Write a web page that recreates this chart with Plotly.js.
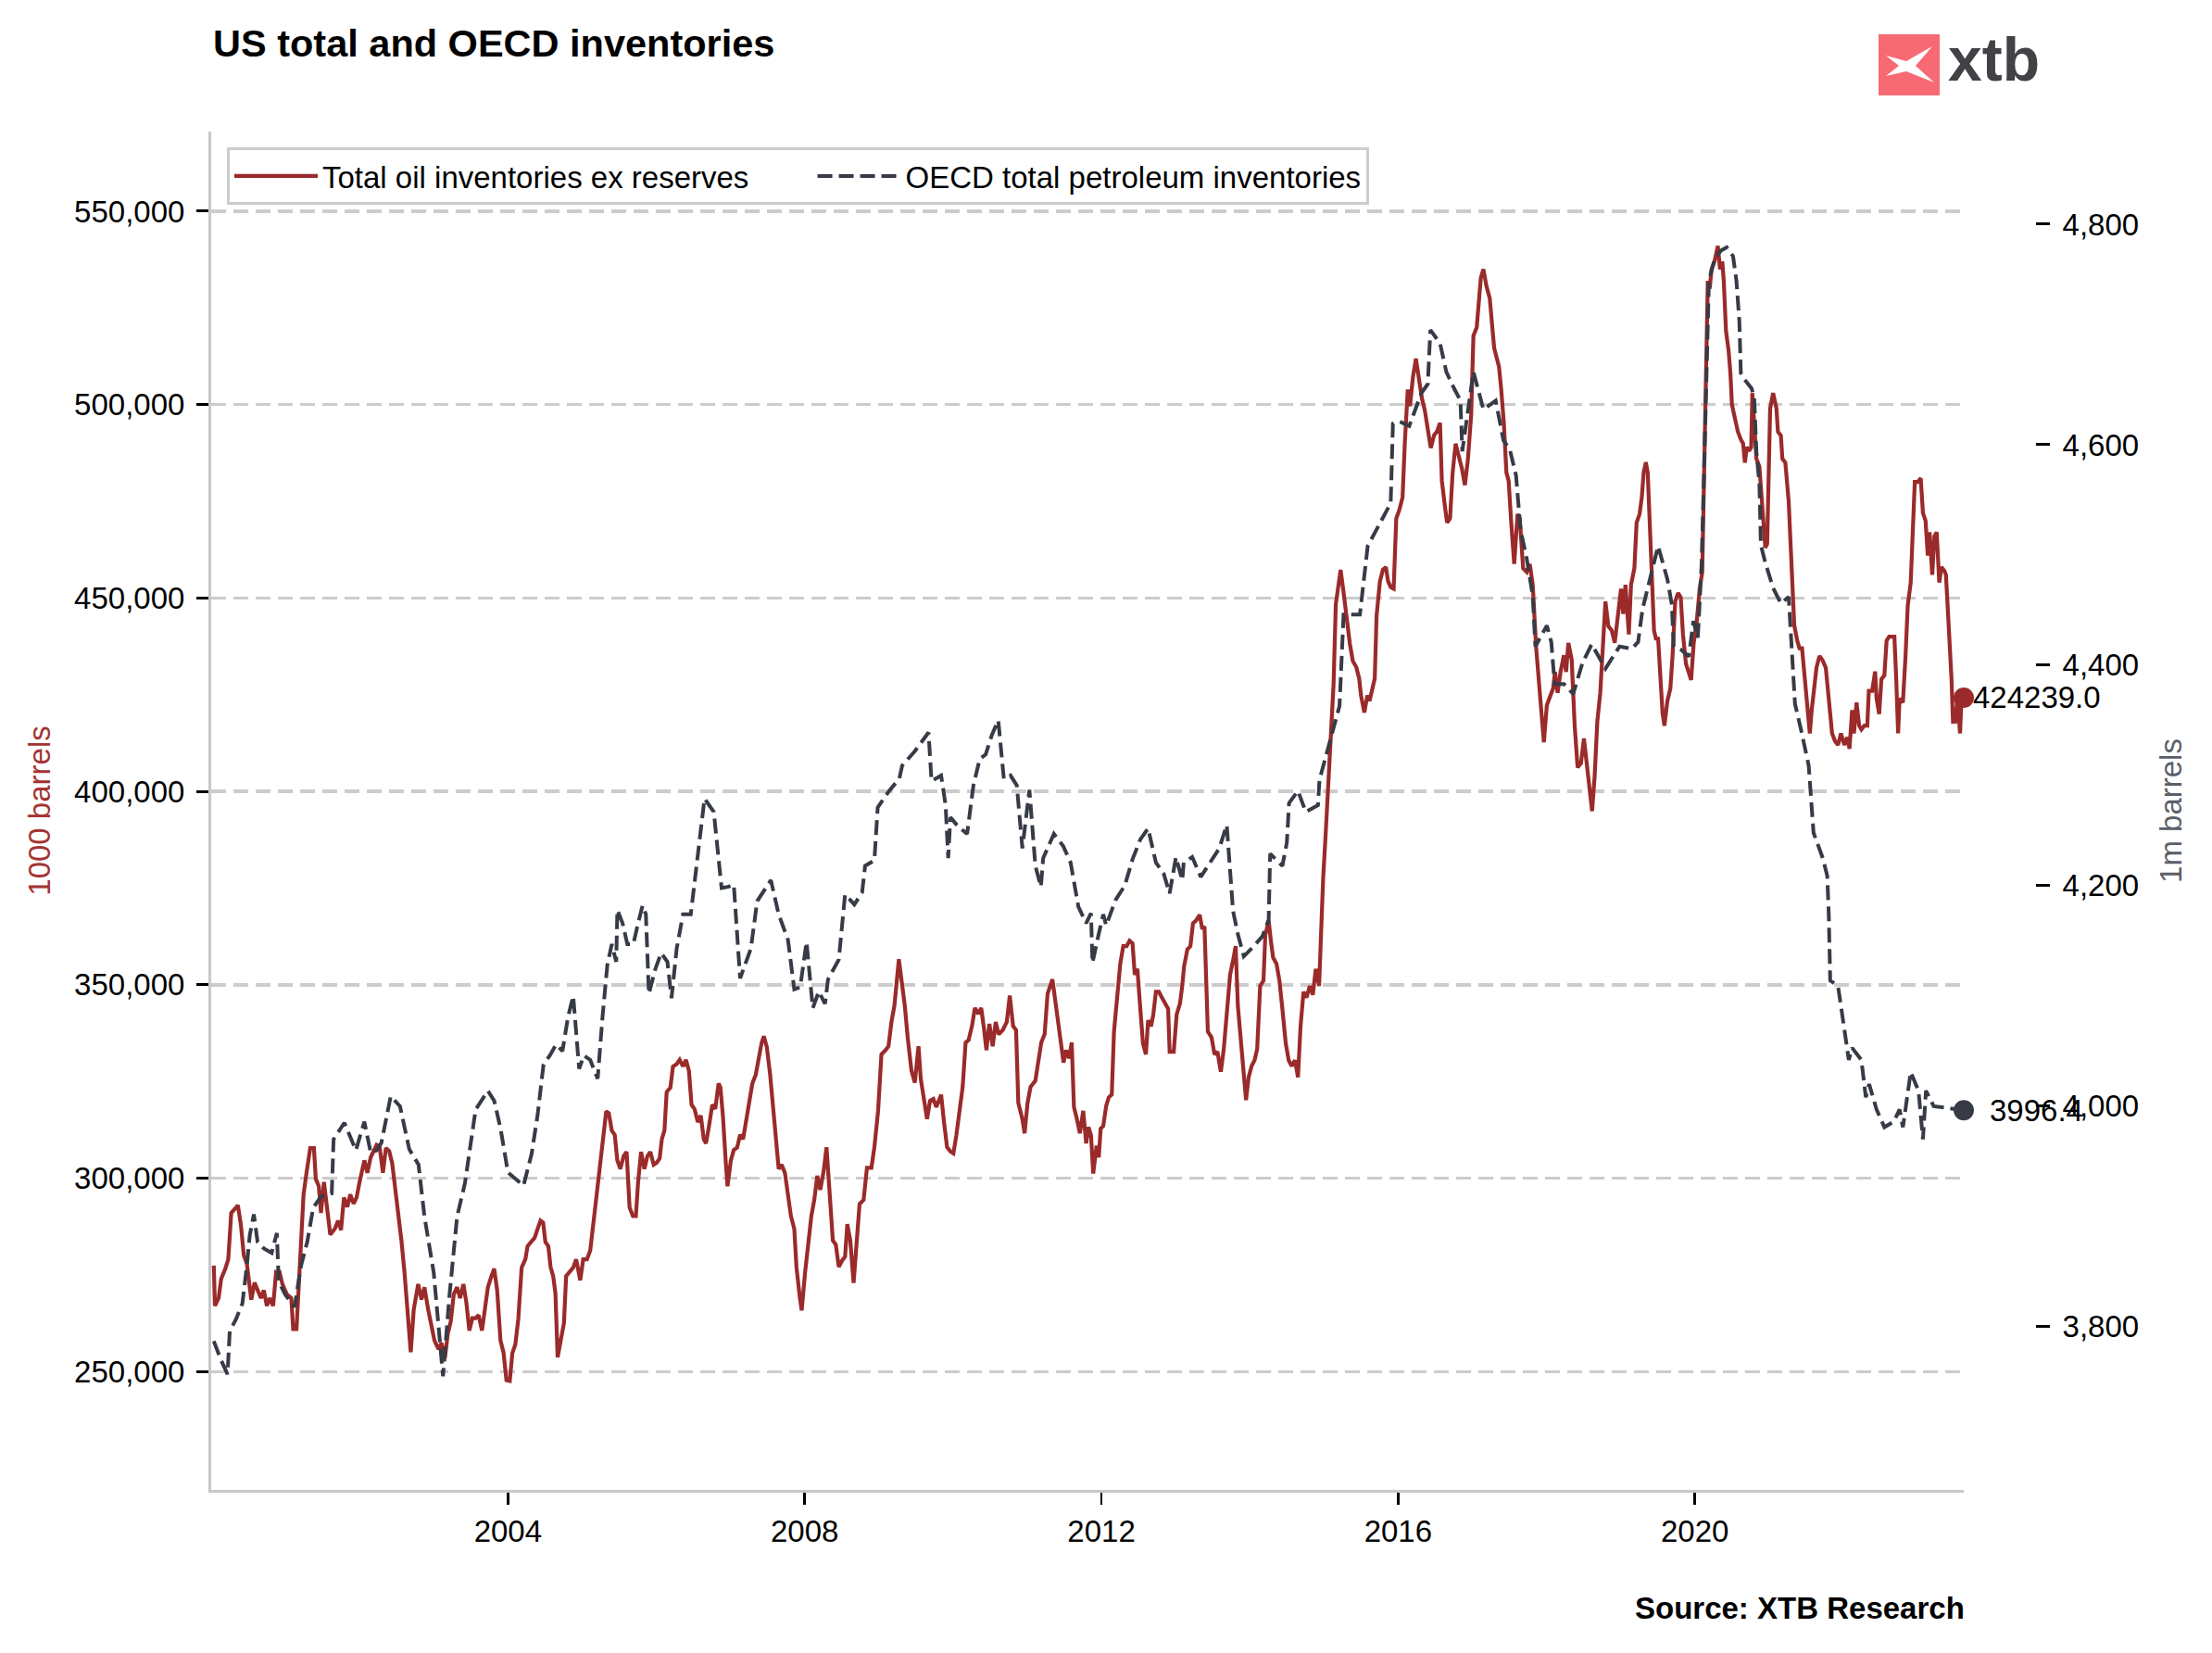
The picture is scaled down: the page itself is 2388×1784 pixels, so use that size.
<!DOCTYPE html>
<html>
<head>
<meta charset="utf-8">
<script src="https://cdn.plot.ly/plotly-3.0.1.min.js"></script>
<style>
  html, body { margin: 0; padding: 0; background: #ffffff; }
  #chart { width: 2388px; height: 1784px; }
</style>
</head>
<body>
<div id="chart"></div>
<script>
// ---- data (decimal year, value) ----
const chartTitle = 'US total and OECD inventories';
const sourceText = 'Source: XTB Research';
const redName = 'Total oil inventories ex reserves';
const oecdName = 'OECD total petroleum inventories';
const leftAxisTitle = '1000 barrels';
const rightAxisTitle = '1m barrels';

const xTickVals = [2004, 2008, 2012, 2016, 2020];
const xTickText = ['2004', '2008', '2012', '2016', '2020'];
const leftTickVals = [250000, 300000, 350000, 400000, 450000, 500000, 550000];
const rightTickVals = [3800, 4000, 4200, 4400, 4600, 4800];

// US total oil inventories ex reserves, thousand barrels
const redSeries = [
[2000.035,277400],[2000.05,267000],[2000.10,269000],[2000.135,274000],[2000.19,276600],[2000.23,279000],[2000.27,291000],[2000.31,292000],[2000.36,293000],[2000.40,288000],[2000.44,280000],[2000.48,278000],[2000.52,271000],[2000.54,268600],[2000.585,273000],[2000.63,271000],[2000.67,269000],[2000.71,271000],[2000.75,267000],[2000.79,269000],[2000.835,267000],[2000.875,275800],[2000.92,275800],[2000.96,272600],[2001.02,270000],[2001.08,269000],[2001.105,261000],[2001.15,261000],[2001.19,274000],[2001.21,284600],[2001.245,295800],[2001.285,301400],[2001.335,307800],[2001.385,307800],[2001.41,299800],[2001.45,298000],[2001.48,291000],[2001.52,299000],[2001.565,291800],[2001.605,285400],[2001.67,287000],[2001.71,289000],[2001.75,286600],[2001.79,295000],[2001.835,292600],[2001.875,295800],[2001.92,293400],[2001.96,295000],[2002.00,299000],[2002.065,304600],[2002.105,301400],[2002.15,305400],[2002.19,307000],[2002.23,308600],[2002.27,308200],[2002.315,301400],[2002.355,307800],[2002.40,307000],[2002.44,303800],[2002.48,298000],[2002.52,291800],[2002.565,283800],[2002.605,275800],[2002.65,266000],[2002.69,255000],[2002.73,266000],[2002.79,272600],[2002.835,268600],[2002.875,271800],[2002.925,266000],[2002.97,261400],[2003.01,258000],[2003.065,255800],[2003.105,257400],[2003.15,253400],[2003.19,259800],[2003.23,263000],[2003.27,270000],[2003.315,271800],[2003.355,269000],[2003.40,272600],[2003.44,267800],[2003.48,260600],[2003.52,263800],[2003.565,263800],[2003.605,264600],[2003.65,260600],[2003.69,265400],[2003.73,271800],[2003.77,274200],[2003.815,276600],[2003.855,271000],[2003.90,258000],[2003.94,255000],[2003.98,247800],
[2004.025,247600],[2004.06,254800],[2004.10,257000],[2004.14,263600],[2004.185,276900],[2004.235,279000],[2004.265,282400],[2004.315,283500],[2004.36,284600],[2004.40,286900],[2004.44,289000],[2004.475,288500],[2004.505,283500],[2004.545,282400],[2004.575,277000],[2004.61,274700],[2004.64,270300],[2004.67,253700],[2004.71,258000],[2004.755,262500],[2004.785,274700],[2004.825,275800],[2004.88,276900],[2004.92,279000],[2004.975,273600],[2005.015,279000],[2005.065,279000],[2005.11,281300],[2005.15,288000],[2005.19,296800],[2005.235,303500],[2005.275,309000],[2005.325,317300],[2005.36,316800],[2005.40,312300],[2005.44,311200],[2005.475,304600],[2005.515,302400],[2005.56,305700],[2005.60,306800],[2005.64,292400],[2005.685,290200],[2005.725,290200],[2005.755,299000],[2005.795,306800],[2005.84,302400],[2005.88,305700],[2005.92,306800],[2005.965,303500],[2006.005,304000],[2006.045,305100],[2006.075,310100],[2006.11,312300],[2006.14,322300],[2006.19,323400],[2006.225,328900],[2006.275,329500],[2006.315,330600],[2006.36,328900],[2006.40,330600],[2006.44,327800],[2006.475,319000],[2006.515,317900],[2006.56,314500],[2006.60,316200],[2006.64,310100],[2006.67,309000],[2006.71,313400],[2006.755,319000],[2006.795,317900],[2006.84,324500],[2006.865,323400],[2006.90,315600],[2006.935,304600],[2006.96,297900],[2007.005,304600],[2007.045,307300],[2007.09,307900],[2007.13,311200],[2007.17,310100],[2007.21,314500],[2007.255,319000],[2007.295,324500],[2007.34,326700],[2007.38,331100],[2007.42,335000],[2007.45,336700],[2007.49,333900],[2007.535,326700],[2007.575,319000],[2007.61,311200],[2007.65,302400],[2007.69,303500],[2007.735,301300],[2007.775,295700],[2007.815,290200],[2007.86,286900],[2007.89,276900],[2007.935,269200],[2007.96,265800],
[2008.005,275500],[2008.045,282800],[2008.09,290200],[2008.13,294400],[2008.17,300600],[2008.21,297000],[2008.255,301700],[2008.295,308000],[2008.34,296400],[2008.38,283900],[2008.42,282800],[2008.46,277100],[2008.505,278700],[2008.545,279700],[2008.575,288100],[2008.615,283900],[2008.66,272900],[2008.70,283900],[2008.74,293300],[2008.795,294400],[2008.84,302700],[2008.90,302700],[2008.94,308000],[2008.99,317400],[2009.035,332000],[2009.09,333100],[2009.13,334100],[2009.17,340400],[2009.21,344600],[2009.27,356600],[2009.32,349800],[2009.35,344600],[2009.39,336200],[2009.44,327800],[2009.485,324700],[2009.535,334100],[2009.565,325700],[2009.61,319500],[2009.65,315300],[2009.69,320000],[2009.735,320500],[2009.775,318400],[2009.84,321600],[2009.88,314200],[2009.92,308000],[2009.965,306900],[2010.005,306400],[2010.045,311100],[2010.09,318400],[2010.13,323600],[2010.17,335100],[2010.21,335700],[2010.255,339300],[2010.295,344000],[2010.34,342500],[2010.38,344000],[2010.42,338300],[2010.45,333100],[2010.49,339900],[2010.535,334100],[2010.575,340400],[2010.615,337200],[2010.67,338300],[2010.725,340400],[2010.765,347200],[2010.81,339300],[2010.85,338300],[2010.88,319500],[2010.935,315300],[2010.965,311600],[2011.005,319500],[2011.045,323600],[2011.11,325200],[2011.15,329900],[2011.19,335100],[2011.235,337200],[2011.275,347700],[2011.34,351400],[2011.38,345600],[2011.42,340400],[2011.465,335100],[2011.49,329900],[2011.525,333100],[2011.565,331000],[2011.60,335100],[2011.63,318400],[2011.67,315300],[2011.71,311600],[2011.755,317400],[2011.795,309000],[2011.825,313200],[2011.86,311100],[2011.89,301200],
[2011.935,308400],[2011.965,305400],[2011.99,312800],[2012.025,313500],[2012.065,318700],[2012.10,320900],[2012.14,321600],[2012.17,337900],[2012.21,346700],[2012.255,355500],[2012.295,360000],[2012.34,360000],[2012.38,361400],[2012.42,360700],[2012.45,352600],[2012.485,354100],[2012.525,343800],[2012.56,334900],[2012.60,332000],[2012.63,340800],[2012.67,339300],[2012.70,342300],[2012.735,348200],[2012.775,348200],[2012.815,346700],[2012.86,345200],[2012.90,343800],[2012.92,332700],[2012.975,332700],[2013.015,342300],[2013.06,345200],[2013.09,349700],[2013.115,354800],[2013.16,359200],[2013.20,360000],[2013.235,365900],[2013.275,366600],[2013.325,368100],[2013.36,364400],[2013.39,365100],[2013.435,337900],[2013.485,336400],[2013.525,332000],[2013.565,332700],[2013.61,327500],[2013.65,333400],[2013.69,342300],[2013.735,352600],[2013.775,356300],[2013.81,360000],[2013.84,344500],[2013.88,336400],[2013.92,327500],[2013.95,320200],[2013.985,326100],[2014.025,329000],[2014.065,330500],[2014.10,333400],[2014.14,349700],[2014.185,351100],[2014.21,362900],[2014.255,366600],[2014.285,361400],[2014.315,357000],[2014.36,355500],[2014.40,351100],[2014.44,343800],[2014.485,334900],[2014.525,330500],[2014.565,329000],[2014.61,330500],[2014.65,326100],[2014.685,339300],[2014.725,348200],[2014.765,346700],[2014.81,349700],[2014.85,347400],[2014.89,354100],[2014.935,349700],[2014.96,362900],[2014.99,377700],[2015.025,389500],[2015.06,402700],[2015.09,413000],[2015.13,427800],[2015.16,448400],[2015.19,452800],[2015.225,457300],[2015.265,451400],[2015.31,444000],[2015.35,438100],[2015.39,433700],[2015.435,432200],[2015.475,429200],[2015.50,424800],[2015.545,420400],[2015.585,424800],[2015.615,423400],[2015.65,426300],[2015.685,429200],[2015.71,445500],[2015.755,454300],[2015.795,457300],[2015.835,458000],[2015.865,454300],[2015.90,452800],[2015.94,452400],
[2015.975,470600],[2016.015,472700],[2016.06,476000],[2016.09,489900],[2016.13,503900],[2016.16,499600],[2016.20,507100],[2016.24,511900],[2016.285,506000],[2016.32,501700],[2016.36,498500],[2016.40,494200],[2016.44,488800],[2016.485,492100],[2016.525,493100],[2016.565,495300],[2016.59,480300],[2016.63,473800],[2016.66,469500],[2016.70,470600],[2016.735,482400],[2016.775,489900],[2016.815,486700],[2016.86,483500],[2016.90,479200],[2016.94,485600],[2016.985,497400],[2017.015,517800],[2017.06,520000],[2017.09,527500],[2017.115,532800],[2017.15,535000],[2017.19,530700],[2017.235,527500],[2017.265,521000],[2017.295,514600],[2017.325,512400],[2017.36,509800],[2017.39,503900],[2017.425,495300],[2017.46,482400],[2017.49,480300],[2017.525,469500],[2017.565,458800],[2017.61,471700],[2017.64,470600],[2017.685,457700],[2017.735,456700],[2017.775,458800],[2017.815,453400],[2017.86,437300],[2017.89,430900],[2017.94,418000],[2017.965,412700],[2018.005,422300],[2018.045,424500],[2018.09,426600],[2018.115,430900],[2018.15,425500],[2018.19,430900],[2018.235,435200],[2018.265,430900],[2018.295,438400],[2018.34,434100],[2018.38,417000],[2018.42,406200],[2018.465,407300],[2018.505,413700],[2018.545,407300],[2018.59,400900],[2018.615,394900],[2018.65,404100],[2018.685,418000],[2018.725,425500],[2018.765,439500],[2018.795,449100],[2018.835,442700],[2018.88,441600],[2018.92,438400],[2018.96,444800],[2019.005,452400],[2019.035,445900],[2019.065,453400],[2019.11,440600],[2019.14,453400],[2019.185,457700],[2019.215,469500],[2019.255,471700],[2019.285,476000],[2019.31,482400],[2019.34,485100],[2019.365,482400],[2019.39,469500],[2019.42,456700],[2019.45,441600],[2019.475,439500],[2019.505,439500],[2019.535,429800],[2019.565,420200],[2019.59,417000],[2019.63,423400],[2019.67,426600],[2019.70,435200],[2019.735,449100],[2019.775,451300],[2019.81,450200],[2019.84,440600],[2019.88,433000],[2019.92,430900],[2019.95,428800],[2019.985,438400],
[2020.025,443800],[2020.065,452400],[2020.10,456700],[2020.12,477000],[2020.14,501700],[2020.175,532000],[2020.20,530000],[2020.225,535000],[2020.265,537000],[2020.31,541000],[2020.34,535000],[2020.37,537000],[2020.39,532000],[2020.42,519000],[2020.455,514000],[2020.48,508000],[2020.50,500000],[2020.535,497000],[2020.58,493000],[2020.62,491000],[2020.65,490000],[2020.675,485000],[2020.70,489000],[2020.73,488000],[2020.76,489000],[2020.775,503000],[2020.80,496000],[2020.83,486000],[2020.87,484000],[2020.90,475000],[2020.925,470000],[2020.95,463000],[2020.975,464000],[2020.995,486000],[2021.015,499000],[2021.055,503000],[2021.10,499000],[2021.12,493000],[2021.16,492000],[2021.18,486000],[2021.22,485000],[2021.265,475000],[2021.30,461000],[2021.34,443000],[2021.38,439000],[2021.41,437000],[2021.445,437000],[2021.475,431000],[2021.515,421000],[2021.55,415000],[2021.575,421000],[2021.605,426000],[2021.64,432000],[2021.68,435000],[2021.72,434000],[2021.765,432000],[2021.805,424000],[2021.85,415000],[2021.89,413000],[2021.93,412000],[2021.97,415000],[2022.015,412000],[2022.055,414000],[2022.085,411000],[2022.12,421000],[2022.145,415000],[2022.18,423000],[2022.215,417000],[2022.245,416000],[2022.285,417000],[2022.325,417000],[2022.345,426000],[2022.39,426000],[2022.43,431000],[2022.45,424000],[2022.485,420000],[2022.515,429000],[2022.555,430000],[2022.585,439000],[2022.62,440000],[2022.66,440000],[2022.69,440000],[2022.715,429000],[2022.74,415000],[2022.76,424000],[2022.805,423000],[2022.84,435000],[2022.87,448000],[2022.91,454000],[2022.94,467000],[2022.965,480000],[2023.005,480000],[2023.045,481000],[2023.075,472000],[2023.11,470000],[2023.14,461000],[2023.165,467000],[2023.20,456000],[2023.23,466000],[2023.26,467000],[2023.295,454000],[2023.325,458000],[2023.365,457000],[2023.385,456000],[2023.41,445000],[2023.43,440000],[2023.46,429000],[2023.48,418000],[2023.51,418000],[2023.54,424000],[2023.575,415000],[2023.595,424000],[2023.625,424239]
];

// OECD total petroleum inventories, million barrels
const oecdSeries = [
[2000.035,3787],[2000.125,3771],[2000.22,3757],[2000.25,3796],[2000.335,3807],[2000.42,3821],[2000.48,3855],[2000.52,3883],[2000.575,3902],[2000.625,3877],[2000.71,3871],[2000.815,3867],[2000.885,3885],[2000.91,3841],[2001.0,3829],[2001.125,3818],[2001.21,3855],[2001.295,3877],[2001.375,3908],[2001.48,3918],[2001.625,3921],[2001.65,3970],[2001.795,3985],[2001.95,3960],[2002.065,3986],[2002.15,3958],[2002.23,3960],[2002.295,3967],[2002.42,4009],[2002.545,4000],[2002.67,3961],[2002.795,3947],[2002.875,3900],[2003.0,3849],[2003.125,3755],[2003.21,3827],[2003.315,3900],[2003.42,3930],[2003.565,3997],[2003.73,4014],[2003.815,4005],[2003.9,3980],
[2004.0,3940],[2004.21,3928],[2004.32,3957],[2004.40,3992],[2004.48,4038],[2004.565,4046],[2004.65,4056],[2004.735,4050],[2004.81,4081],[2004.88,4100],[2004.96,4034],[2005.025,4046],[2005.11,4042],[2005.21,4025],[2005.275,4081],[2005.34,4128],[2005.40,4147],[2005.46,4131],[2005.475,4178],[2005.545,4166],[2005.61,4147],[2005.69,4147],[2005.755,4166],[2005.815,4182],[2005.86,4174],[2005.90,4102],[2005.985,4124],[2006.065,4139],[2006.15,4131],[2006.205,4098],[2006.275,4143],[2006.36,4174],[2006.465,4174],[2006.565,4229],[2006.65,4279],[2006.775,4267],[2006.88,4198],[2006.965,4199],[2007.045,4201],[2007.13,4116],[2007.275,4143],[2007.36,4186],[2007.44,4194],[2007.545,4205],[2007.65,4174],[2007.775,4151],[2007.86,4106],[2007.94,4108],
[2008.025,4149],[2008.11,4089],[2008.19,4104],[2008.275,4093],[2008.315,4115],[2008.46,4133],[2008.545,4192],[2008.67,4183],[2008.775,4194],[2008.815,4218],[2008.94,4223],[2008.985,4271],[2009.15,4287],[2009.275,4297],[2009.315,4309],[2009.485,4322],[2009.67,4339],[2009.71,4295],[2009.84,4300],[2009.90,4273],[2009.935,4225],[2009.965,4262],[2010.065,4254],[2010.19,4247],[2010.275,4291],[2010.36,4315],[2010.44,4319],[2010.525,4337],[2010.61,4350],[2010.685,4297],[2010.775,4300],[2010.86,4291],[2010.935,4234],[2010.985,4262],[2011.03,4287],[2011.11,4218],[2011.185,4199],[2011.215,4225],[2011.36,4247],[2011.485,4236],[2011.585,4221],[2011.69,4181],[2011.795,4166],[2011.86,4175],[2011.88,4130],[2011.96,4155],
[2012.025,4174],[2012.065,4164],[2012.19,4187],[2012.315,4200],[2012.42,4224],[2012.525,4242],[2012.63,4252],[2012.735,4221],[2012.84,4211],[2012.92,4193],[2013.005,4226],[2013.09,4205],[2013.11,4221],[2013.225,4226],[2013.34,4208],[2013.465,4221],[2013.59,4234],[2013.69,4255],[2013.775,4177],[2013.84,4156],[2013.92,4136],[2014.025,4143],[2014.17,4154],[2014.255,4169],[2014.275,4229],[2014.44,4218],[2014.5,4239],[2014.53,4275],[2014.65,4286],[2014.755,4267],[2014.92,4273],[2014.94,4296],[2015.065,4327],[2015.21,4363],[2015.265,4446],[2015.485,4446],[2015.59,4508],[2015.71,4523],[2015.90,4547],[2015.93,4619],
[2016.02,4621],[2016.15,4617],[2016.315,4647],[2016.40,4655],[2016.435,4704],[2016.565,4692],[2016.65,4666],[2016.755,4651],[2016.84,4640],[2016.865,4594],[2016.94,4632],[2017.015,4666],[2017.15,4632],[2017.315,4640],[2017.42,4604],[2017.505,4596],[2017.59,4572],[2017.65,4523],[2017.735,4496],[2017.815,4463],[2017.85,4417],[2018.005,4436],[2018.065,4421],[2018.11,4383],[2018.235,4383],[2018.36,4374],[2018.485,4402],[2018.61,4419],[2018.795,4397],[2018.985,4417],[2019.15,4415],[2019.235,4421],[2019.295,4451],[2019.40,4478],[2019.505,4508],[2019.63,4478],[2019.69,4455],[2019.715,4417],[2019.815,4414],[2019.92,4408],[2019.98,4440],
[2020.04,4425],[2020.09,4490],[2020.12,4565],[2020.16,4671],[2020.19,4749],[2020.265,4768],[2020.35,4776],[2020.43,4779],[2020.515,4771],[2020.56,4749],[2020.60,4712],[2020.62,4665],[2020.66,4660],[2020.765,4651],[2020.80,4643],[2020.83,4593],[2020.87,4565],[2020.89,4509],[2020.95,4493],[2021.055,4470],[2021.16,4456],[2021.265,4462],[2021.305,4420],[2021.35,4365],[2021.43,4342],[2021.535,4309],[2021.60,4248],[2021.725,4225],[2021.785,4209],[2021.805,4175],[2021.825,4114],[2021.93,4109],[2022.015,4070],[2022.075,4042],[2022.12,4053],[2022.245,4042],[2022.305,4008],[2022.35,4020],[2022.45,3997],[2022.555,3981],[2022.68,3986],[2022.76,3997],[2022.805,3981],[2022.91,4031],[2023.015,4014],[2023.075,3970],[2023.115,4014],[2023.22,4000],[2023.625,3996.4]
];

// ---- build traces ----
const redX = redSeries.map(p => p[0]);
const redY = redSeries.map(p => p[1]);
const oecdX = oecdSeries.map(p => p[0]);
const oecdY = oecdSeries.map(p => p[1]);
const redLastX = redX[redX.length - 1], redLastY = redY[redY.length - 1];
const oecdLastX = oecdX[oecdX.length - 1], oecdLastY = oecdY[oecdY.length - 1];

const RED = '#9b2a2a';
const DARK = '#363b46';
const FONT = 'Liberation Sans, Arial, Helvetica, sans-serif';

// plot geometry (pixels)
const W = 2388, H = 1784;
const L = 228, R = 2197, T = 142, B = 1608, XEND = 2120;
const px = v => (v - L) / (R - L);
const py = v => (B - v) / (B - T);
const legendGap = '\u00a0'.repeat(7); // spacing between the two legend entries

const traces = [
  { x: redX, y: redY, type: 'scatter', mode: 'lines', name: redName + legendGap,
    line: { color: RED, width: 4.2 }, yaxis: 'y', hoverinfo: 'skip' },
  { x: oecdX, y: oecdY, type: 'scatter', mode: 'lines', name: oecdName,
    line: { color: DARK, width: 4, dash: '16px,7px' }, yaxis: 'y2', hoverinfo: 'skip' },
  { x: [redLastX], y: [redLastY], type: 'scatter', mode: 'markers', showlegend: false,
    cliponaxis: false, marker: { color: RED, size: 22 }, yaxis: 'y', hoverinfo: 'skip' },
  { x: [oecdLastX], y: [oecdLastY], type: 'scatter', mode: 'markers', showlegend: false,
    cliponaxis: false, marker: { color: DARK, size: 22 }, yaxis: 'y2', hoverinfo: 'skip' }
];

const layout = {
  width: W, height: H,
  margin: { l: L, r: W - R, t: T, b: H - B, pad: 0 },
  paper_bgcolor: '#ffffff', plot_bgcolor: '#ffffff',
  font: { family: FONT, size: 33, color: '#000000' },
  showlegend: true,
  title: {
    text: '<b>' + chartTitle + '</b>',
    font: { family: FONT, size: 41.5, color: '#000000' },
    xref: 'container', yref: 'container',
    x: 230 / W, xanchor: 'left', y: 1 - 46 / H, yanchor: 'middle'
  },
  xaxis: {
    domain: [0, px(XEND)],
    range: [2000.0, 2023.625],
    tickmode: 'array', tickvals: xTickVals, ticktext: xTickText,
    ticks: 'outside', ticklen: 13, tickwidth: 2.5, tickcolor: '#000000',
    showline: true, linecolor: '#c8c8c8', linewidth: 3,
    showgrid: false, zeroline: false,
    tickfont: { family: FONT, size: 33, color: '#000000' },
    fixedrange: true
  },
  yaxis: {
    range: [219400, 570600],
    tickmode: 'array', tickvals: leftTickVals, tickformat: ',d',
    ticks: 'outside', ticklen: 13, tickwidth: 3, tickcolor: '#000000',
    ticklabelstandoff: 6,
    showline: true, linecolor: '#c8c8c8', linewidth: 3,
    showgrid: true, gridcolor: '#cccccc', gridwidth: 3.5, griddash: '16px,8px',
    zeroline: false,
    tickfont: { family: FONT, size: 33, color: '#000000' },
    title: { text: leftAxisTitle, font: { family: FONT, size: 33, color: '#a33333' }, standoff: 16 },
    fixedrange: true
  },
  yaxis2: {
    overlaying: 'y', side: 'right', anchor: 'free', position: 1,
    range: [3652, 4884],
    tickmode: 'array', tickvals: rightTickVals, tickformat: ',d',
    ticks: 'outside', ticklen: 15, tickwidth: 3, tickcolor: '#000000',
    ticklabelstandoff: 7,
    showline: false, showgrid: false, zeroline: false,
    tickfont: { family: FONT, size: 33, color: '#000000' },
    title: { text: rightAxisTitle, font: { family: FONT, size: 33, color: '#5a5f68' }, standoff: 23 },
    fixedrange: true
  },
  legend: {
    orientation: 'h',
    x: px(245), y: py(159), xanchor: 'left', yanchor: 'top',
    bgcolor: 'rgba(255,255,255,0.85)', bordercolor: '#cccccc', borderwidth: 3,
    font: { family: FONT, size: 33, color: '#000000' },
    itemwidth: 90,
    tracegroupgap: 0
  },
  annotations: [
    { text: redLastY.toFixed(1), x: redLastX, y: redLastY, xref: 'x', yref: 'y',
      xanchor: 'left', yanchor: 'middle', xshift: 8, showarrow: false,
      font: { family: FONT, size: 33, color: '#000000' } },
    { text: oecdLastY.toFixed(1), x: oecdLastX, y: oecdLastY, xref: 'x', yref: 'y2',
      xanchor: 'left', yanchor: 'middle', xshift: 26, showarrow: false,
      font: { family: FONT, size: 33, color: '#000000' } },
    { text: '<b>' + sourceText + '</b>', x: px(XEND + 3), y: py(1736), xref: 'paper', yref: 'paper',
      xanchor: 'right', yanchor: 'middle', showarrow: false,
      font: { family: FONT, size: 33, color: '#000000' } },
    { text: '<b>xtb</b>', x: px(2101), y: py(64), xref: 'paper', yref: 'paper',
      xanchor: 'left', yanchor: 'middle', showarrow: false,
      font: { family: FONT, size: 66, color: '#414146' } }
  ],
  shapes: [
    { type: 'rect', xref: 'paper', yref: 'paper', x0: px(2028), x1: px(2094), y0: py(103), y1: py(37),
      fillcolor: '#f86a73', line: { width: 0 }, layer: 'above' },
    { type: 'path', xref: 'paper', yref: 'paper', layer: 'above',
      path: 'M ' + px(2036) + ',' + py(60) + ' L ' + px(2058) + ',' + py(66) + ' L ' + px(2086) + ',' + py(50) +
            ' L ' + px(2068) + ',' + py(71) + ' L ' + px(2088) + ',' + py(89) + ' L ' + px(2058) + ',' + py(77) +
            ' L ' + px(2036) + ',' + py(82) + ' L ' + px(2050) + ',' + py(71) + ' Z',
      fillcolor: '#ffffff', line: { width: 0 } }
  ]
};

Plotly.newPlot('chart', traces, layout, { displayModeBar: false, staticPlot: true });
</script>
</body>
</html>
